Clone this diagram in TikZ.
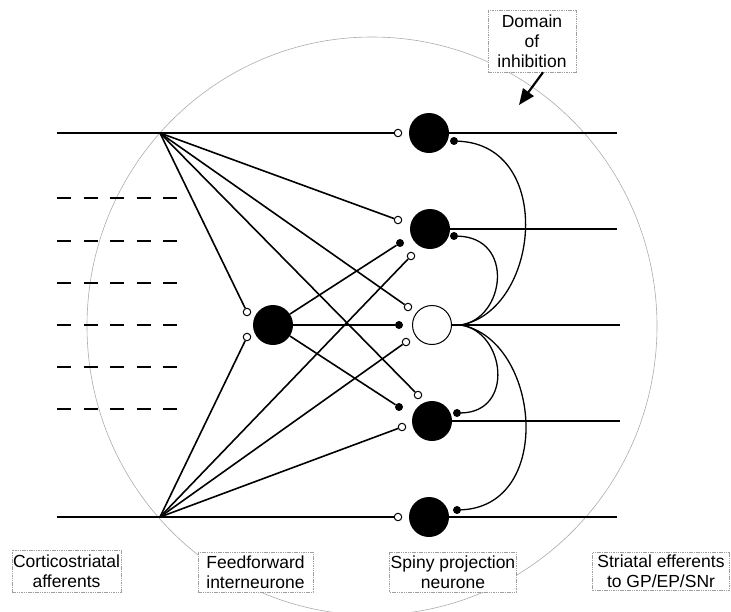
\documentclass[tikz,border=0pt]{standalone}
\usepackage{fontspec}
\setmainfont{Liberation Sans}
\usetikzlibrary{arrows.meta}
\begin{document}
\begin{tikzpicture}[x=1pt,y=-1pt,
  axon/.style={line width=1.6pt},
  hax/.style={line width=1.4pt},
  oterm/.style={circle,draw,fill=white,line width=1pt,minimum size=7.5pt,inner sep=0pt},
  fterm/.style={circle,fill=black,minimum size=8pt,inner sep=0pt},
  spiny/.style={circle,fill=black,minimum size=40pt,inner sep=0pt},
  openspiny/.style={circle,draw,fill=white,line width=1pt,minimum size=39pt,inner sep=0pt},
  tagbox/.style={draw=gray!75,dash pattern=on 1.5pt off 0.8pt,line width=0.6pt,fill=white,align=center,inner sep=1pt,font=\fontsize{17.5}{20}\selectfont},
  collat/.style={line width=1.3pt},
  domline/.style={draw=gray!65,line width=0.6pt}
]
\useasboundingbox (0,0) rectangle (731,611);

% domain of inhibition outline
\draw[domline] (372,326) ellipse [x radius=285pt, y radius=289pt];

% dashed afferents
\foreach \yy in {198,241,283,325,367,409}
  \draw[line width=1.3pt,dash pattern=on 14pt off 12.5pt] (57,\yy) -- (177,\yy);

% convergence points
\coordinate (aT) at (57,133);
\coordinate (aB) at (57,517);
\coordinate (T) at (160,133);
\coordinate (B) at (160,517);

% spiny projection neurones
\node[spiny] (S1) at (429,133) {};
\node[spiny] (S2) at (430,229) {};
\node[openspiny] (S3) at (432,325) {};
\node[spiny] (S4) at (432,421) {};
\node[spiny] (S5) at (429,517) {};

% interneurone
\node[spiny] (I) at (273,325) {};

% terminals from top afferent
\node[oterm] (t1) at (398,133) {};
\node[oterm] (t2) at (398,220) {};
\node[oterm] (t3) at (408,307) {};
\node[oterm] (t4) at (418,395) {};
\node[oterm] (ta) at (247,312) {};
% terminals from bottom afferent
\node[oterm] (b5) at (398,517) {};
\node[oterm] (b4) at (402,427) {};
\node[oterm] (b3) at (406,342) {};
\node[oterm] (b2) at (411,256) {};
\node[oterm] (bb) at (247,337) {};
% interneurone terminals
\node[fterm] (f2) at (400,243) {};
\node[fterm] (f3) at (399,325) {};
\node[fterm] (f4) at (399,407) {};
% collateral terminals
\node[fterm] (c1) at (454,141) {};
\node[fterm] (c2) at (454,236) {};
\node[fterm] (c4) at (457,413) {};
\node[fterm] (c5) at (457,510) {};

% afferents
\draw[hax] (aT) -- (T) -- (t1);
\draw[hax] (aB) -- (B) -- (b5);
\draw[axon] (T) -- (t2);
\draw[axon] (T) -- (t3);
\draw[axon] (T) -- (t4);
\draw[axon] (T) -- (ta);
\draw[axon] (B) -- (b4);
\draw[axon] (B) -- (b3);
\draw[axon] (B) -- (b2);
\draw[axon] (B) -- (bb);

% interneurone outputs
\draw[axon] (I) -- (f2);
\draw[hax] (I) -- (f3);
\draw[axon] (I) -- (f4);

% efferents
\coordinate (e1) at (617,133);
\coordinate (e2) at (617,229);
\coordinate (e3) at (620,325);
\coordinate (e4) at (620,421);
\coordinate (e5) at (617,517);
\draw[hax] (S1) -- (e1);
\draw[hax] (S2) -- (e2);
\draw[hax] (S3) -- (e3);
\draw[hax] (S4) -- (e4);
\draw[hax] (S5) -- (e5);

% recurrent collaterals
\coordinate (C) at (461,325);
\draw[collat] (C) .. controls (540,310) and (555,145) .. (c1);
\draw[collat] (C) .. controls (505,318) and (515,238) .. (c2);
\draw[collat] (C) .. controls (505,332) and (515,412) .. (c4);
\draw[collat] (C) .. controls (540,340) and (555,506) .. (c5);

% labels
\node[tagbox,minimum width=88pt,minimum height=62pt] (dom) at (532,41) {Domain\\of\\inhibition};
\coordinate (tip) at (519,105);
\draw[line width=2.2pt,-{Triangle[length=16pt,width=13pt]}] ([xshift=11pt]dom.south) -- (tip);

\node[tagbox,minimum width=109pt,minimum height=42pt] (lc) at (66.5,571) {Corticostriatal\\afferents};
\node[tagbox,minimum width=115pt,minimum height=40pt] (lf) at (255.5,572) {Feedforward\\interneurone};
\node[tagbox,minimum width=126pt,minimum height=40pt] (ls) at (453,572) {Spiny projection\\neurone};
\node[tagbox,minimum width=137pt,minimum height=38pt] (le) at (661,571) {Striatal efferents\\to GP/EP/SNr};
\end{tikzpicture}
\end{document}
